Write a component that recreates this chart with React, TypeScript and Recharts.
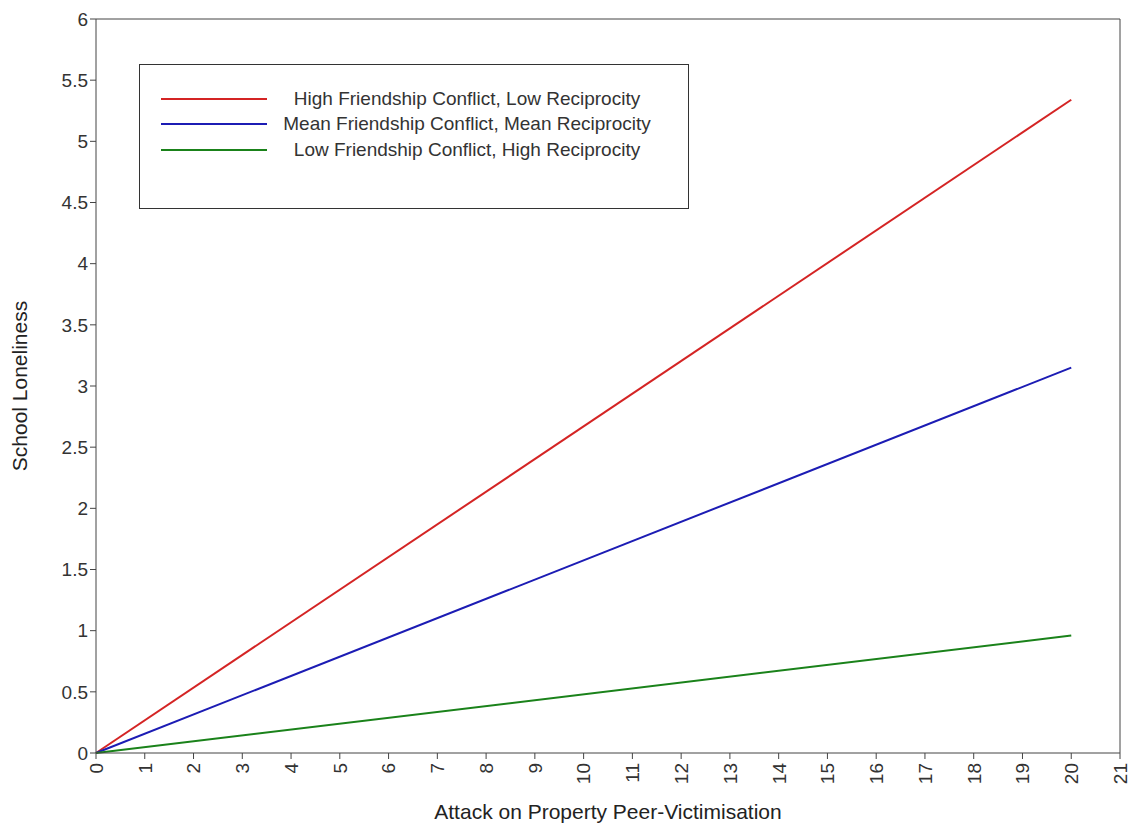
import { LineChart, Line, XAxis, YAxis, ReferenceLine } from 'recharts'

const xValues = [0, 20]
const highConflict = [0, 5.34]
const meanConflict = [0, 3.15]
const lowConflict = [0, 0.96]

const xTicks = [0, 1, 2, 3, 4, 5, 6, 7, 8, 9, 10, 11, 12, 13, 14, 15, 16, 17, 18, 19, 20, 21]
const yTicks = [0, 0.5, 1, 1.5, 2, 2.5, 3, 3.5, 4, 4.5, 5, 5.5, 6]

const seriesNames = [
    'High Friendship Conflict, Low Reciprocity',
    'Mean Friendship Conflict, Mean Reciprocity',
    'Low Friendship Conflict, High Reciprocity',
]
const colors = ['#d42424', '#1c1cb4', '#1a821a']

const data = xValues.map((x, i) => ({
    x,
    high: highConflict[i],
    mean: meanConflict[i],
    low: lowConflict[i],
}))

const font = '"Liberation Sans", Arial, sans-serif'

const XTick = (props: any) => {
    const { x, y, payload } = props
    return (
        <g transform={`translate(${x},${y + 2})`}>
            <text transform="rotate(-90)" textAnchor="end" dy="0.36em" fontSize={19} fill="#333" fontFamily={font}>
                {payload.value}
            </text>
        </g>
    )
}

const LegendBox = () => (
    <div style={{ position: 'absolute', left: 139, top: 64, width: 550, height: 145, border: '1px solid #333', background: '#fff', boxSizing: 'border-box', fontFamily: font, fontSize: 19, color: '#333' }}>
        <div style={{ height: 21 }} />
        {seriesNames.map((name, i) => (
            <div key={name} style={{ display: 'flex', alignItems: 'center', height: 25.5 }}>
                <div style={{ marginLeft: 21, width: 106, height: 2, background: colors[i] }} />
                <div style={{ width: 400, textAlign: 'center', marginLeft: 0, whiteSpace: 'nowrap' }}>{name}</div>
            </div>
        ))}
    </div>
)

export default function App() {
    return (
        <div style={{ position: 'absolute', left: 0, top: 0, background: '#fff' }}>
            <LineChart width={1133} height={827} data={data} margin={{ top: 19, right: 13, left: 36, bottom: 24 }}>
                <XAxis
                    dataKey="x"
                    type="number"
                    domain={[0, 21]}
                    ticks={xTicks}
                    interval={0}
                    stroke="#444"
                    tick={<XTick />}
                    height={50}
                    label={{ value: 'Attack on Property Peer-Victimisation', position: 'insideBottom', offset: -16, fontSize: 21, fill: '#222', fontFamily: font }}
                />
                <YAxis
                    type="number"
                    domain={[0, 6]}
                    ticks={yTicks}
                    interval={0}
                    width={60}
                    stroke="#444"
                    tick={{ fontSize: 19, fill: '#333', fontFamily: font }}
                    label={{ value: 'School Loneliness', angle: -90, position: 'insideLeft', offset: -16, fontSize: 21, fill: '#222', fontFamily: font, style: { textAnchor: 'middle' } }}
                />
                <ReferenceLine y={6} stroke="#444" />
                <ReferenceLine x={21} stroke="#444" />
                <Line dataKey="high" stroke={colors[0]} strokeWidth={2} dot={false} isAnimationActive={false} />
                <Line dataKey="mean" stroke={colors[1]} strokeWidth={2} dot={false} isAnimationActive={false} />
                <Line dataKey="low" stroke={colors[2]} strokeWidth={2} dot={false} isAnimationActive={false} />
            </LineChart>
            <LegendBox />
        </div>
    )
}
